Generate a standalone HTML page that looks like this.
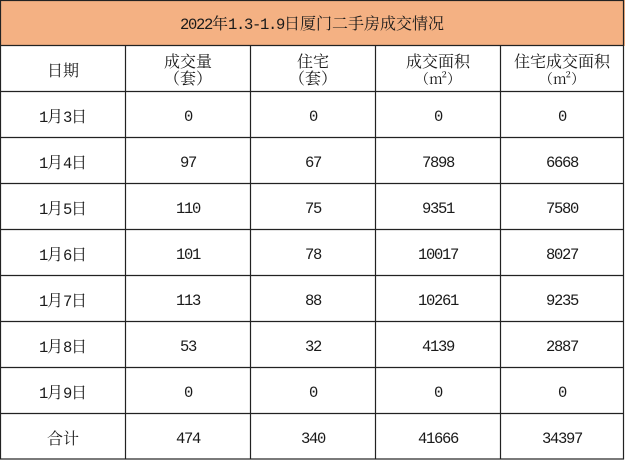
<!DOCTYPE html>
<html><head><meta charset="utf-8"><style>
html,body{margin:0;padding:0;background:#fff;}
svg text{font-family:"Noto Serif CJK SC","WenQuanYi Zen Hei",serif;font-size:16px;fill:#1a1a1a;text-anchor:middle;}
svg .n{font-family:"Liberation Mono",monospace;font-size:15.5px;letter-spacing:-1.3px;}
</style></head><body>
<svg width="625" height="460" xmlns="http://www.w3.org/2000/svg">
<rect x="0" y="0" width="625" height="46" fill="#F4B183"/>
<g stroke="#222" stroke-width="1.2" fill="none">
<rect x="0.5" y="0.5" width="623" height="458.5"/>
<line x1="0" y1="45.5" x2="624" y2="45.5"/>
<line x1="0" y1="91.5" x2="624" y2="91.5"/>
<line x1="0" y1="137.5" x2="624" y2="137.5"/>
<line x1="0" y1="183.5" x2="624" y2="183.5"/>
<line x1="0" y1="229.5" x2="624" y2="229.5"/>
<line x1="0" y1="275.5" x2="624" y2="275.5"/>
<line x1="0" y1="321.5" x2="624" y2="321.5"/>
<line x1="0" y1="367.5" x2="624" y2="367.5"/>
<line x1="0" y1="413.5" x2="624" y2="413.5"/>
<line x1="125.5" y1="46" x2="125.5" y2="459"/>
<line x1="250.5" y1="46" x2="250.5" y2="459"/>
<line x1="375.5" y1="46" x2="375.5" y2="459"/>
<line x1="500.5" y1="46" x2="500.5" y2="459"/>
</g>
<text x="312" y="29"><tspan class="n">2022</tspan>年<tspan class="n">1.3-1.9</tspan>日厦门二手房成交情况</text>
<text x="63" y="76">日期</text>
<text x="188" y="67">成交量</text><text x="188" y="84">（套）</text>
<text x="313" y="67">住宅</text><text x="313" y="84">（套）</text>
<text x="438" y="67">成交面积</text><text x="438" y="84" style="font-size:14px">（m²）</text>
<text x="562" y="67">住宅成交面积</text><text x="562" y="84" style="font-size:14px">（m²）</text>
<g>
<text x="63" y="122"><tspan class="n">1</tspan>月<tspan class="n">3</tspan>日</text><text class="n" x="188" y="121">0</text><text class="n" x="313" y="121">0</text><text class="n" x="438" y="121">0</text><text class="n" x="562" y="121">0</text>
<text x="63" y="168"><tspan class="n">1</tspan>月<tspan class="n">4</tspan>日</text><text class="n" x="188" y="167">97</text><text class="n" x="313" y="167">67</text><text class="n" x="438" y="167">7898</text><text class="n" x="562" y="167">6668</text>
<text x="63" y="214"><tspan class="n">1</tspan>月<tspan class="n">5</tspan>日</text><text class="n" x="188" y="213">110</text><text class="n" x="313" y="213">75</text><text class="n" x="438" y="213">9351</text><text class="n" x="562" y="213">7580</text>
<text x="63" y="260"><tspan class="n">1</tspan>月<tspan class="n">6</tspan>日</text><text class="n" x="188" y="259">101</text><text class="n" x="313" y="259">78</text><text class="n" x="438" y="259">10017</text><text class="n" x="562" y="259">8027</text>
<text x="63" y="306"><tspan class="n">1</tspan>月<tspan class="n">7</tspan>日</text><text class="n" x="188" y="305">113</text><text class="n" x="313" y="305">88</text><text class="n" x="438" y="305">10261</text><text class="n" x="562" y="305">9235</text>
<text x="63" y="352"><tspan class="n">1</tspan>月<tspan class="n">8</tspan>日</text><text class="n" x="188" y="351">53</text><text class="n" x="313" y="351">32</text><text class="n" x="438" y="351">4139</text><text class="n" x="562" y="351">2887</text>
<text x="63" y="398"><tspan class="n">1</tspan>月<tspan class="n">9</tspan>日</text><text class="n" x="188" y="397">0</text><text class="n" x="313" y="397">0</text><text class="n" x="438" y="397">0</text><text class="n" x="562" y="397">0</text>
<text x="63" y="444">合计</text><text class="n" x="188" y="443">474</text><text class="n" x="313" y="443">340</text><text class="n" x="438" y="443">41666</text><text class="n" x="562" y="443">34397</text>
</g>
</svg>
</body></html>
